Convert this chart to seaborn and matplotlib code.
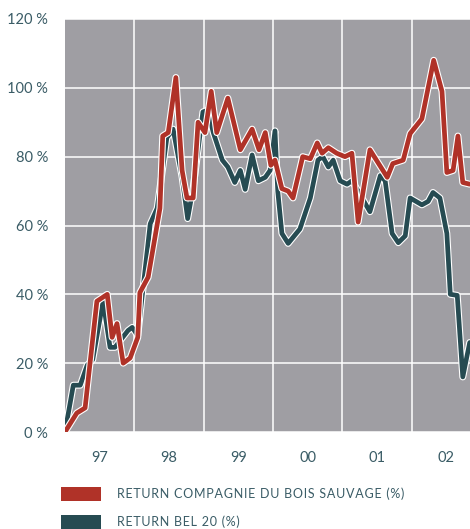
import numpy as np
import pandas as pd
import seaborn as sns
import matplotlib.pyplot as plt
from matplotlib.patches import Patch
import matplotlib.patheffects as pe

# ===============================
# DATA (decimal years, return in %)
# ===============================
cbs_years = [1997.00, 1997.17, 1997.29, 1997.46, 1997.61, 1997.68, 1997.75, 1997.84,
             1997.94, 1998.05, 1998.08, 1998.20, 1998.37, 1998.41, 1998.49, 1998.60,
             1998.69, 1998.76, 1998.85, 1998.92, 1999.02, 1999.11, 1999.19, 1999.35,
             1999.53, 1999.70, 1999.80, 1999.89, 1999.97, 2000.03, 2000.13, 2000.22,
             2000.29, 2000.43, 2000.54, 2000.64, 2000.71, 2000.80, 2000.92, 2001.04,
             2001.14, 2001.23, 2001.40, 2001.65, 2001.73, 2001.88, 2001.98, 2002.15,
             2002.32, 2002.44, 2002.51, 2002.60, 2002.67, 2002.74, 2002.84]
cbs_return = [0, 5.5, 7, 38, 40, 27.5, 31.5, 20,
              21.5, 27.5, 40.5, 45, 65, 86, 87, 103,
              76, 68, 68, 90, 87, 99, 87, 97,
              82, 88, 82, 87, 77.5, 79, 70.7, 70,
              68, 80, 79.4, 84, 81, 82.6, 81, 80,
              81, 61, 82, 74, 78, 79, 86.7, 91,
              108, 99, 75.4, 76, 86, 72.5, 72]

bel_years = [1997.00, 1997.12, 1997.22, 1997.32, 1997.40, 1997.55, 1997.65, 1997.72,
             1997.91, 1997.97, 1998.05, 1998.23, 1998.33, 1998.47, 1998.56, 1998.69,
             1998.77, 1998.85, 1998.99, 1999.06, 1999.14, 1999.27, 1999.35, 1999.45,
             1999.53, 1999.60, 1999.70, 1999.79, 1999.89, 1999.96, 2000.03, 2000.07,
             2000.13, 2000.22, 2000.39, 2000.54, 2000.65, 2000.72, 2000.80, 2000.87,
             2000.97, 2001.07, 2001.14, 2001.23, 2001.40, 2001.55, 2001.62, 2001.72,
             2001.81, 2001.91, 2001.98, 2002.15, 2002.24, 2002.31, 2002.41, 2002.51,
             2002.56, 2002.66, 2002.74, 2002.84]
bel_return = [0, 13.6, 13.6, 19.4, 21, 38, 24.6, 24.6,
              29.5, 30.4, 28, 60.5, 65, 85.5, 88, 74,
              62, 71, 93, 93.5, 87, 79, 77, 72.5,
              76, 70.5, 80.5, 73, 74, 76, 87.5, 70,
              57.7, 54.8, 59, 68, 79, 80, 77, 79,
              73, 72, 73, 70, 64, 74.5, 73, 57.7,
              55, 57, 68, 66, 67, 69.6, 68, 57.7,
              40, 39.7, 16, 26]

labels = ["RETURN COMPAGNIE DU BOIS SAUVAGE (%)", "RETURN BEL 20 (%)"]
year_labels = ["97", "98", "99", "00", "01", "02"]
y_ticks = [0, 20, 40, 60, 80, 100, 120]

RED = "#b03228"
TEAL = "#264b52"
TXT = "#3a5c66"
BG = "#9f9ea3"

df = pd.concat([
    pd.DataFrame({"year": bel_years, "ret": bel_return, "series": labels[1]}),
    pd.DataFrame({"year": cbs_years, "ret": cbs_return, "series": labels[0]}),
], ignore_index=True)

sns.set_theme(style="white")
plt.rcParams["font.family"] = ["Lato", "DejaVu Sans"]

fig = plt.figure(figsize=(4.70, 5.29), dpi=100)
ax = fig.add_axes([65 / 470, 97 / 529, 405 / 470, 413 / 529])
ax.set_facecolor(BG)

sns.lineplot(data=df, x="year", y="ret", hue="series",
             hue_order=[labels[1], labels[0]],
             palette={labels[0]: RED, labels[1]: TEAL},
             linewidth=3.4, sort=False, estimator=None, legend=False, ax=ax)
for line in ax.lines:
    line.set_path_effects([pe.Stroke(linewidth=5.0, foreground="white"), pe.Normal()])
    line.set_solid_joinstyle("round")
    line.set_solid_capstyle("round")
    line.set_zorder(3)

ax.set_xlim(1997.0, 1997 + 405 / 69.3)
ax.set_ylim(0, 120)

# grid at year boundaries, labels in the middle of each year
ax.set_xticks([1998, 1999, 2000, 2001, 2002])
ax.set_xticklabels([])
ax.set_xticks([1997.5 + i for i in range(len(year_labels))], minor=True)
ax.set_xticklabels(year_labels, minor=True)
ax.set_yticks(y_ticks)
ax.set_yticklabels([f"{v} %" for v in y_ticks])
ax.tick_params(which="both", length=0, colors=TXT, labelsize=10.5)
ax.tick_params(axis="x", which="minor", pad=14)
ax.tick_params(axis="y", pad=12)
ax.grid(True, which="major", color="white", linewidth=1.1)
ax.set_axisbelow(True)
for s in ax.spines.values():
    s.set_visible(False)
ax.set_xlabel("")
ax.set_ylabel("")

# letter-spaced legend labels (hair spaces between characters)
spaced = ["\u200a".join(lab) for lab in labels]
handles = [Patch(facecolor=RED, edgecolor="none"), Patch(facecolor=TEAL, edgecolor="none")]
leg = fig.legend(handles, spaced, loc="upper left", bbox_to_anchor=(57 / 470, 1 - 483 / 529),
                 frameon=False, fontsize=9, handlelength=3.2, handleheight=1.35,
                 handletextpad=1.3, labelspacing=1.15, borderaxespad=0, borderpad=0.3)
for t in leg.get_texts():
    t.set_color(TXT)

fig.savefig("out.png", dpi=100)
